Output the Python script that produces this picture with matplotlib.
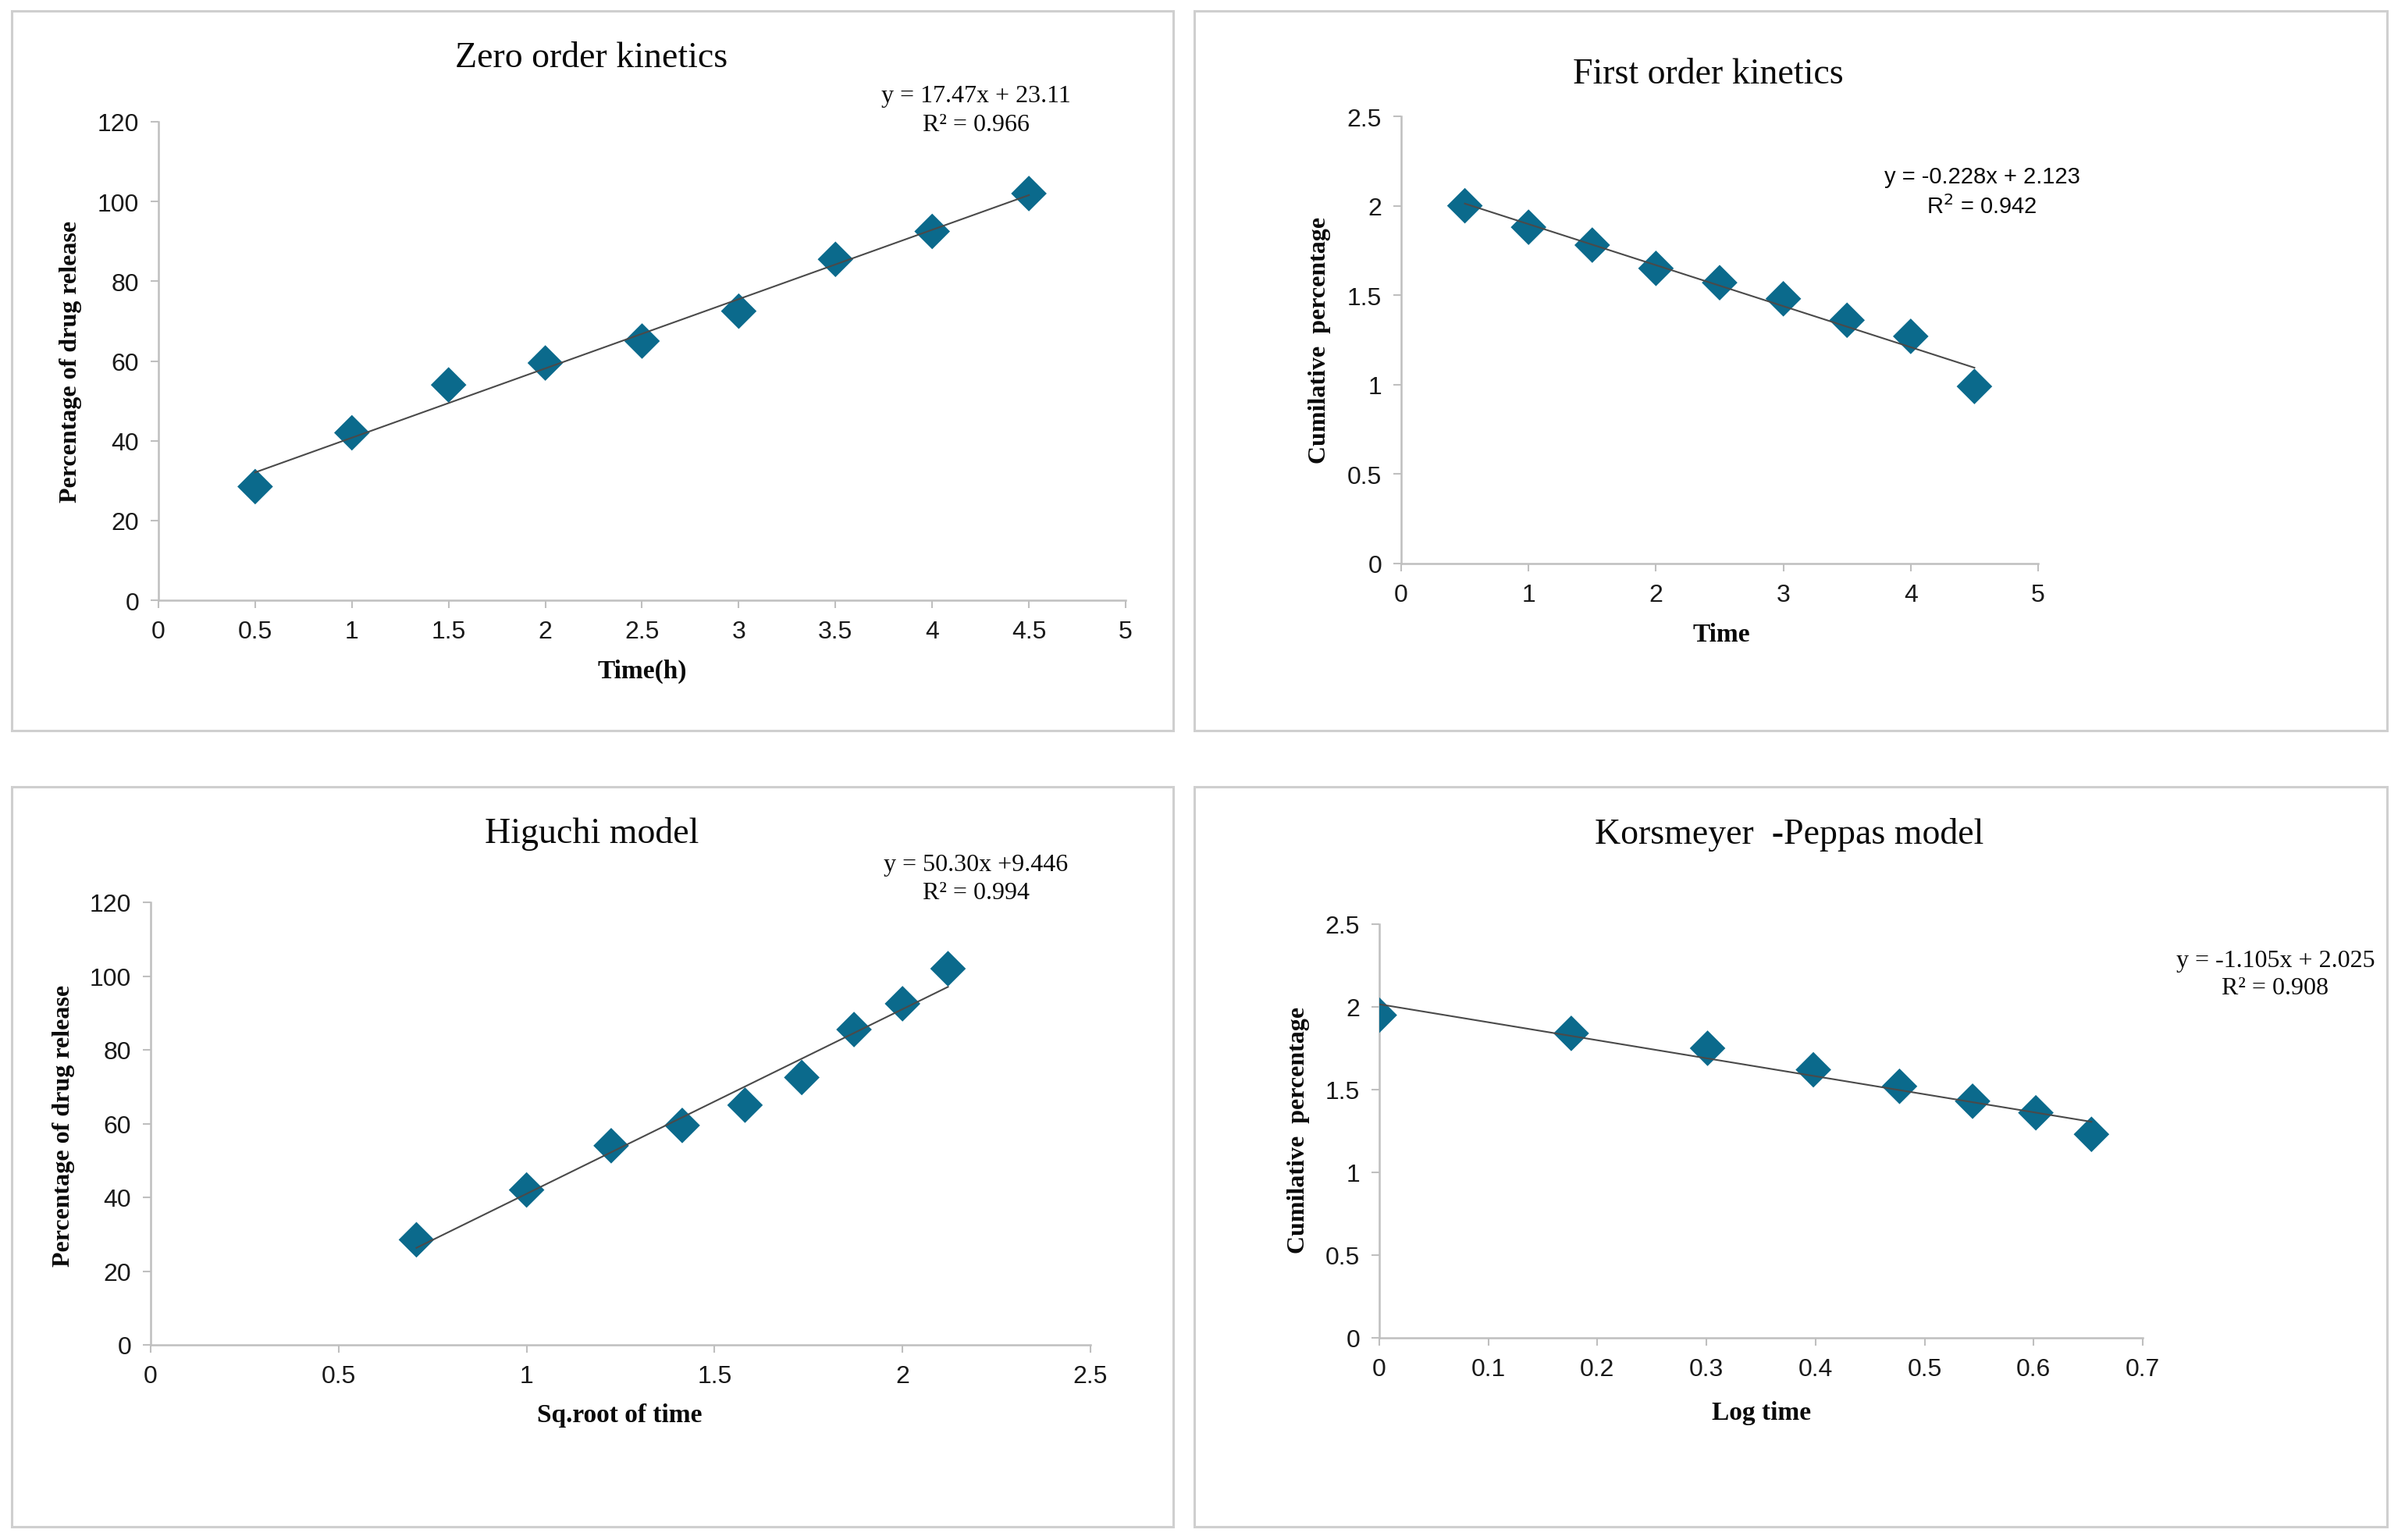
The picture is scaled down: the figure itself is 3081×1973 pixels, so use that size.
import numpy as np
import matplotlib
matplotlib.use("Agg")
import matplotlib.pyplot as plt
from matplotlib.patches import Rectangle

# data
time_h = [0.5, 1, 1.5, 2, 2.5, 3, 3.5, 4, 4.5]
release_pct = [28.5, 42, 54, 59.5, 65, 72.5, 85.5, 92.5, 102]
first_order_y = [2.0, 1.88, 1.78, 1.65, 1.57, 1.48, 1.36, 1.27, 0.99]
sqrt_time = [0.707, 1.0, 1.225, 1.414, 1.581, 1.732, 1.871, 2.0, 2.121]
log_time = [0.0, 0.176, 0.301, 0.398, 0.477, 0.544, 0.602, 0.653]
kp_y = [1.95, 1.84, 1.75, 1.62, 1.52, 1.43, 1.36, 1.23]

W, H = 3081, 1974
MARKER_C = "#0B6A8C"
AXIS_C = "#BFBFBF"
SERIF = "Liberation Serif"
SANS = "Liberation Sans"

fig = plt.figure(figsize=(W / 100, H / 100), dpi=100)
fig.patch.set_facecolor("white")


def fx(px):
    return px / W


def fy(py):
    return 1 - py / H


def add_box(x0, y0, x1, y1):
    fig.patches.append(Rectangle((fx(x0), fy(y1)), fx(x1 - x0), (y1 - y0) / H,
                                 transform=fig.transFigure, fill=False,
                                 edgecolor="#CFCFCF", linewidth=2.2))


def panel(box, xs, ys, xlim, ylim, xticks, yticks, xfmt):
    x0, y0, x1, y1 = box
    ax = fig.add_axes([fx(x0), fy(y1), fx(x1 - x0), (y1 - y0) / H])
    ax.scatter(xs, ys, marker="D", s=540, color=MARKER_C, edgecolors="none", zorder=3)
    k, b = np.polyfit(xs, ys, 1)
    xx = np.array([min(xs), max(xs)])
    ax.plot(xx, k * xx + b, color="#4A4A4A", linewidth=1.5, zorder=4)
    ax.set_xlim(*xlim)
    ax.set_ylim(*ylim)
    ax.set_xticks(xticks)
    ax.set_yticks(yticks)
    ax.set_xticklabels([xfmt(v) for v in xticks])
    ax.set_yticklabels(["%g" % v for v in yticks])
    for s in ["top", "right"]:
        ax.spines[s].set_visible(False)
    for s in ["left", "bottom"]:
        ax.spines[s].set_color(AXIS_C)
        ax.spines[s].set_linewidth(1.8)
    ax.tick_params(direction="out", length=7, width=1.5, color=AXIS_C,
                   labelsize=23, pad=11)
    for lab in ax.get_xticklabels() + ax.get_yticklabels():
        lab.set_fontfamily(SANS)
        lab.set_color("#1A1A1A")
    return ax


def txt(x, y, s, size, family=SERIF, weight="normal", rot=0):
    fig.text(fx(x), fy(y), s, fontsize=size, family=family, weight=weight,
             rotation=rot, ha="center", va="center", color="#0A0A0A")


# panel frames
add_box(15, 15, 1503, 937)
add_box(1530, 15, 3058, 937)
add_box(15, 1009, 1503, 1957)
add_box(1530, 1009, 3058, 1957)

# Zero order kinetics
panel((203, 157, 1442, 770), time_h, release_pct, (0, 5), (0, 120),
      np.arange(0, 5.01, 0.5), np.arange(0, 121, 20), lambda v: "%g" % v)
txt(758, 75, "Zero order kinetics", 33)
txt(1250, 124, "y = 17.47x + 23.11", 23)
txt(1250, 160, "R² = 0.966", 23)
txt(91, 463, "Percentage of drug release", 23, weight="bold", rot=90)
txt(823, 860, "Time(h)", 24, weight="bold")

# First order kinetics
panel((1795, 150, 2611, 723), time_h, first_order_y, (0, 5), (0, 2.5),
      np.arange(0, 6, 1), np.arange(0, 2.51, 0.5), lambda v: "%g" % v)
txt(2188, 96, "First order kinetics", 33)
txt(2539, 227, "y = -0.228x + 2.123", 21, family=SANS)
txt(2539, 265, "R$^2$ = 0.942", 21, family=SANS)
txt(1691, 436, "Cumilative  percentage", 23, weight="bold", rot=90)
txt(2205, 813, "Time", 24, weight="bold")

# Higuchi model
panel((193, 1157, 1397, 1724), sqrt_time, release_pct, (0, 2.5), (0, 120),
      np.arange(0, 2.51, 0.5), np.arange(0, 121, 20), lambda v: "%g" % v)
txt(758, 1068, "Higuchi model", 33)
txt(1250, 1109, "y = 50.30x +9.446", 23)
txt(1250, 1145, "R² = 0.994", 23)
txt(82, 1442, "Percentage of drug release", 23, weight="bold", rot=90)
txt(794, 1814, "Sq.root of time", 24, weight="bold")

# Korsmeyer-Peppas model
panel((1767, 1185, 2745, 1715), log_time, kp_y, (0, 0.7), (0, 2.5),
      np.arange(0, 0.71, 0.1), np.arange(0, 2.51, 0.5), lambda v: "%g" % round(v, 1))
txt(2292, 1070, "Korsmeyer  -Peppas model", 33)
txt(2915, 1232, "y = -1.105x + 2.025", 23)
txt(2915, 1266, "R² = 0.908", 23)
txt(1664, 1448, "Cumilative  percentage", 23, weight="bold", rot=90)
txt(2257, 1811, "Log time", 24, weight="bold")

fig.savefig("out.png", dpi=100, facecolor="white")
